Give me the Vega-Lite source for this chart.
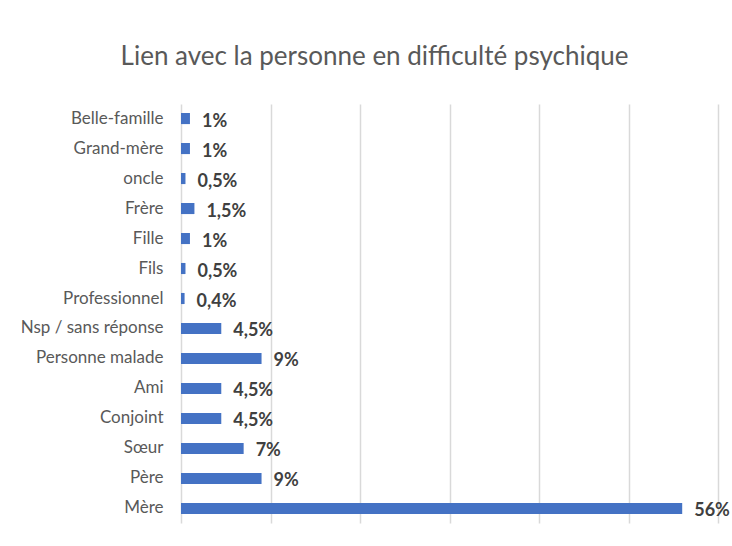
{
  "$schema": "https://vega.github.io/schema/vega-lite/v6.json",
  "width": 537,
  "height": 419,
  "autosize": "none",
  "padding": {"left": 181, "top": 104, "right": 14, "bottom": 23},
  "background": "white",
  "title": {
    "text": "Lien avec la personne en difficulté psychique",
    "font": "Lato, sans-serif",
    "fontSize": 26,
    "fontWeight": "normal",
    "color": "#595959",
    "anchor": "middle",
    "frame": "group",
    "dx": -75,
    "offset": 34
  },
  "data": {
    "values": [
      {"lien": "Belle-famille", "pct": 1, "label": "1%"},
      {"lien": "Grand-mère", "pct": 1, "label": "1%"},
      {"lien": "oncle", "pct": 0.5, "label": "0,5%"},
      {"lien": "Frère", "pct": 1.5, "label": "1,5%"},
      {"lien": "Fille", "pct": 1, "label": "1%"},
      {"lien": "Fils", "pct": 0.5, "label": "0,5%"},
      {"lien": "Professionnel", "pct": 0.4, "label": "0,4%"},
      {"lien": "Nsp / sans réponse", "pct": 4.5, "label": "4,5%"},
      {"lien": "Personne malade", "pct": 9, "label": "9%"},
      {"lien": "Ami ", "pct": 4.5, "label": "4,5%"},
      {"lien": "Conjoint", "pct": 4.5, "label": "4,5%"},
      {"lien": "Sœur", "pct": 7, "label": "7%"},
      {"lien": "Père", "pct": 9, "label": "9%"},
      {"lien": "Mère", "pct": 56, "label": "56%"}
    ]
  },
  "encoding": {
    "y": {
      "field": "lien",
      "type": "nominal",
      "sort": null,
      "scale": {"paddingInner": 0.63, "paddingOuter": 0.3},
      "axis": {
        "title": null,
        "ticks": false,
        "domain": false,
        "labelFont": "Lato, sans-serif",
        "labelFontSize": 17,
        "labelColor": "#595959",
        "labelPadding": 18
      }
    },
    "x": {
      "field": "pct",
      "type": "quantitative",
      "scale": {"domain": [0, 60]},
      "axis": {
        "title": null,
        "labels": false,
        "ticks": false,
        "domain": false,
        "values": [0, 10, 20, 30, 40, 50, 60],
        "gridColor": "#d9d9d9",
        "gridWidth": 1.5
      }
    }
  },
  "layer": [
    {"mark": {"type": "bar", "color": "#4472c4"}},
    {
      "mark": {
        "type": "text",
        "align": "left",
        "baseline": "middle",
        "dx": 12,
        "dy": 3,
        "font": "Lato, sans-serif",
        "fontSize": 18,
        "fontWeight": "bold",
        "color": "#404040"
      },
      "encoding": {"text": {"field": "label"}}
    }
  ],
  "config": {"view": {"stroke": null}}
}
